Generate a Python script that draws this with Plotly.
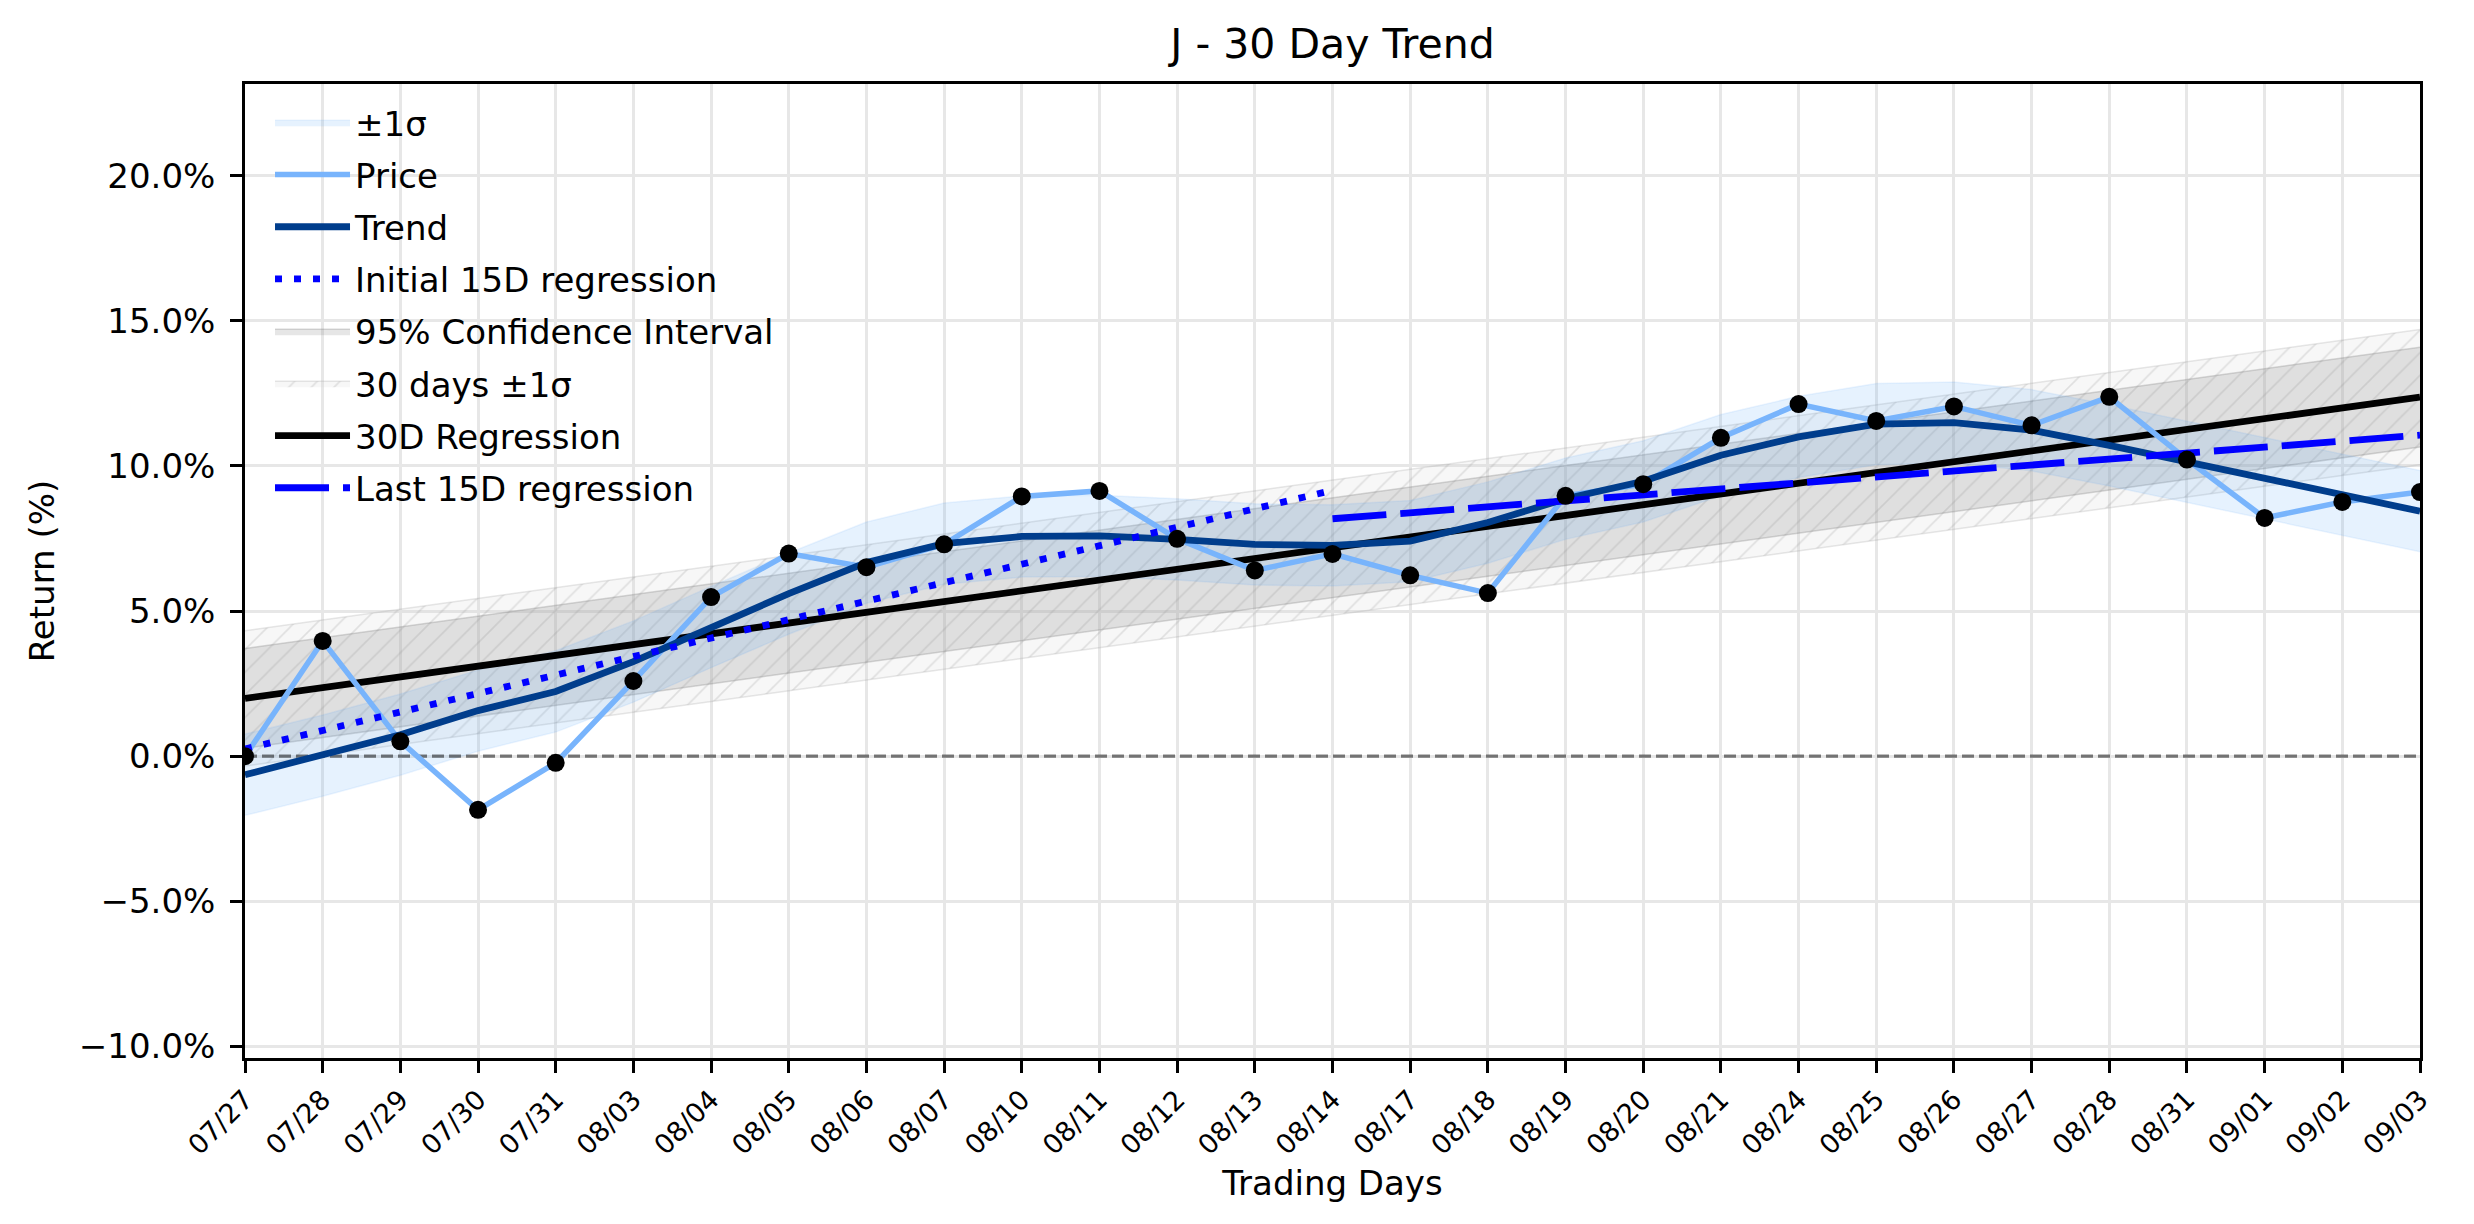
import plotly.graph_objects as go

# trading days shown on the x axis
dates = ["07/27", "07/28", "07/29", "07/30", "07/31", "08/03", "08/04", "08/05",
         "08/06", "08/07", "08/10", "08/11", "08/12", "08/13", "08/14", "08/17",
         "08/18", "08/19", "08/20", "08/21", "08/24", "08/25", "08/26", "08/27",
         "08/28", "08/31", "09/01", "09/02", "09/03"]

# cumulative return (%)
price = [0.00, 3.97, 0.51, -1.85, -0.23, 2.59, 5.48, 6.98, 6.51, 7.30, 8.95,
         9.14, 7.49, 6.40, 6.97, 6.23, 5.62, 8.97, 9.37, 10.97, 12.13, 11.55,
         12.05, 11.40, 12.38, 10.22, 8.21, 8.76, 9.10]

# smoothed trend (%)
trend = [-0.64, 0.02, 0.74, 1.57, 2.23, 3.26, 4.45, 5.60, 6.67, 7.32, 7.57,
         7.59, 7.47, 7.30, 7.26, 7.41, 8.05, 8.87, 9.47, 10.37, 11.00, 11.44,
         11.49, 11.23, 10.71, 10.14, 9.56, 8.99, 8.44]
trend_sigma = 1.40

# 30 day regression, start / end values
reg30_x = [0, 28]
reg30_y = [1.99, 12.37]
ci95_half = 1.72
sigma30_half = 2.33

# 15 day regressions
init15_x = [0, 14]
init15_y = [0.25, 9.16]
last15_x = [14, 28]
last15_y = [8.18, 11.06]

y_ticks = [-10, -5, 0, 5, 10, 15, 20]

x = list(range(len(dates)))
FONT = "DejaVu Sans"


def pct(v):
    s = f"{abs(v):.1f}%"
    return ("\u2212" + s) if v < 0 else s


fig = go.Figure()

# 30 days +-1 sigma (hatched)
fig.add_trace(go.Scatter(x=reg30_x, y=[v - sigma30_half for v in reg30_y], mode="lines",
                         line=dict(color="rgba(160,160,160,0.25)", width=1.5),
                         showlegend=False, hoverinfo="skip"))
fig.add_trace(go.Scatter(x=reg30_x, y=[v + sigma30_half for v in reg30_y], mode="lines",
                         line=dict(color="rgba(160,160,160,0.25)", width=1.5),
                         fill="tonexty", fillcolor="rgba(200,200,200,0.15)",
                         fillpattern=dict(shape="/", size=16, solidity=0.1,
                                          fgcolor="rgba(150,150,150,0.5)",
                                          bgcolor="rgba(200,200,200,0.15)"),
                         name="30 days ±1σ", legendrank=6, legendgroup="g6"))

# 95% confidence interval
fig.add_trace(go.Scatter(x=reg30_x, y=[v - ci95_half for v in reg30_y], mode="lines",
                         line=dict(color="rgba(128,128,128,0.3)", width=1.5),
                         showlegend=False, hoverinfo="skip"))
fig.add_trace(go.Scatter(x=reg30_x, y=[v + ci95_half for v in reg30_y], mode="lines",
                         line=dict(color="rgba(128,128,128,0.3)", width=1.5),
                         fill="tonexty", fillcolor="rgba(128,128,128,0.2)",
                         name="95% Confidence Interval", legendrank=5, legendgroup="g5"))

# rolling +-1 sigma around the trend
fig.add_trace(go.Scatter(x=x, y=[v - trend_sigma for v in trend], mode="lines",
                         line=dict(color="rgba(80,160,245,0.1)", width=1.5),
                         showlegend=False, hoverinfo="skip"))
fig.add_trace(go.Scatter(x=x, y=[v + trend_sigma for v in trend], mode="lines",
                         line=dict(color="rgba(80,160,245,0.1)", width=1.5),
                         fill="tonexty", fillcolor="rgba(80,160,245,0.14)",
                         name="±1σ", legendrank=1, legendgroup="g1"))

# zero line
fig.add_trace(go.Scatter(x=[0, 28], y=[0, 0], mode="lines",
                         line=dict(color="rgba(0,0,0,0.5)", width=3.4, dash="12px,5px"),
                         showlegend=False, hoverinfo="skip"))

fig.add_trace(go.Scatter(x=reg30_x, y=reg30_y, mode="lines",
                         line=dict(color="black", width=6.8),
                         name="30D Regression", legendrank=7, legendgroup="g7"))

fig.add_trace(go.Scatter(x=x, y=price, mode="lines",
                         line=dict(color="#78b4fc", width=5.5),
                         name="Price", legendrank=2, legendgroup="g2"))

fig.add_trace(go.Scatter(x=x, y=trend, mode="lines",
                         line=dict(color="#003d8c", width=6.8),
                         name="Trend", legendrank=3, legendgroup="g3"))

fig.add_trace(go.Scatter(x=init15_x, y=init15_y, mode="lines",
                         line=dict(color="blue", width=6.8, dash="7px,12px"),
                         name="Initial 15D regression", legendrank=4, legendgroup="g4"))

fig.add_trace(go.Scatter(x=last15_x, y=last15_y, mode="lines",
                         line=dict(color="blue", width=6.8, dash="54px,14px"),
                         name="Last 15D regression", legendrank=8, legendgroup="g8"))

fig.add_trace(go.Scatter(x=x, y=price, mode="markers",
                         marker=dict(color="black", size=18),
                         showlegend=False))

fig.update_layout(
    width=2474, height=1224,
    margin=dict(l=237, r=62, t=76, b=174),
    plot_bgcolor="white", paper_bgcolor="white",
    font=dict(family=FONT, size=34, color="black"),
    title=dict(text="J - 30 Day Trend", x=0.5, xref="paper", xanchor="center",
               y=1 - 36 / 1224, yanchor="middle", font=dict(size=41)),
    legend=dict(x=0.0115, y=0.99, xanchor="left", yanchor="top",
                traceorder="grouped", tracegroupgap=5,
                bgcolor="rgba(0,0,0,0)", font=dict(size=34), itemwidth=75),
)

fig.update_xaxes(
    range=[0, 28], tickmode="array", tickvals=x, ticktext=dates,
    tickangle=-45, tickfont=dict(size=27),
    showgrid=True, gridcolor="#e7e7e7", gridwidth=2.7,
    showline=True, linecolor="black", linewidth=2.7, mirror=True,
    ticks="outside", ticklen=12, tickwidth=2.7, tickcolor="black",
    zeroline=False,
    title=dict(text="Trading Days", font=dict(size=34), standoff=12),
)
fig.update_yaxes(
    range=[-10.4, 23.16], tickmode="array", tickvals=y_ticks,
    ticktext=[pct(v) for v in y_ticks], ticklabelstandoff=8,
    showgrid=True, gridcolor="#e7e7e7", gridwidth=2.7,
    showline=True, linecolor="black", linewidth=2.7, mirror=True,
    ticks="outside", ticklen=12, tickwidth=2.7, tickcolor="black",
    zeroline=False,
    title=dict(text="Return (%)", font=dict(size=34), standoff=14),
)

fig.write_html("out.html")
